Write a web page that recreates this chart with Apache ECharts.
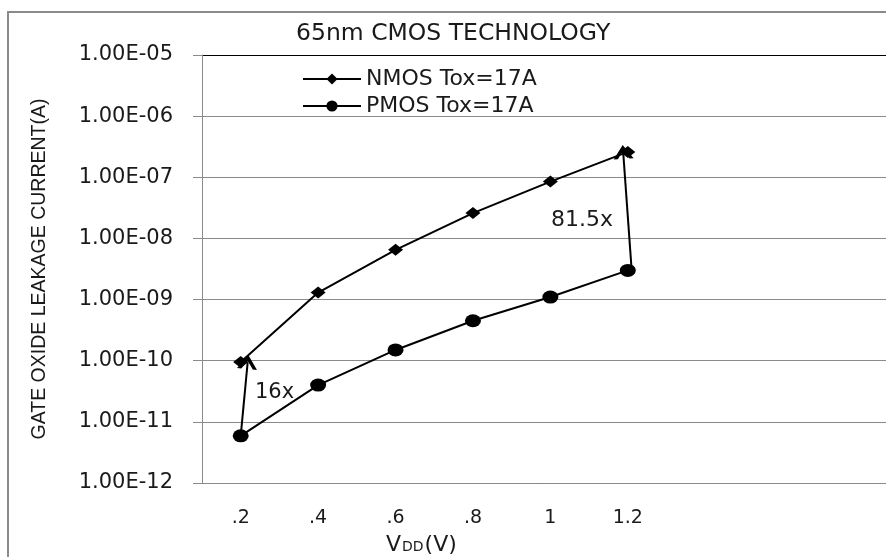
<!DOCTYPE html>
<html>
<head>
<meta charset="utf-8">
<script src="https://cdn.jsdelivr.net/npm/echarts@6/dist/echarts.min.js"></script>
<style>
html,body{margin:0;padding:0;background:#fff;}
#chart{width:886px;height:557px;}
</style>
</head>
<body>
<div id="chart"></div>
<script>
// ---- data ----
const titleText = '65nm CMOS TECHNOLOGY';
const seriesNames = ['NMOS Tox=17A', 'PMOS Tox=17A'];
const xValues = [0.2, 0.4, 0.6, 0.8, 1.0, 1.2];
const xTickLabels = ['.2', '.4', '.6', '.8', '1', '1.2'];
const nmos = [9.5e-11, 1.3e-9, 6.5e-9, 2.6e-8, 8.5e-8, 2.6e-7];
const pmos = [5.9e-12, 4.0e-11, 1.5e-10, 4.5e-10, 1.1e-9, 3.0e-9];
const yTickValues = [1e-12, 1e-11, 1e-10, 1e-9, 1e-8, 1e-7, 1e-6, 1e-5];
const yTickLabels = ['1.00E-12', '1.00E-11', '1.00E-10', '1.00E-09', '1.00E-08', '1.00E-07', '1.00E-06', '1.00E-05'];
const ratioLabels = ['16x', '81.5x'];
const yAxisName = 'GATE OXIDE LEAKAGE CURRENT(A)';

// ---- chart ----
const chart = echarts.init(document.getElementById('chart'), null, {renderer: 'canvas'});
const FONT = 'DejaVu Sans';
const TXT = '#1a1a1a';
const GRID = '#8a8a8a';

const chevron = 'path://M0,10 L5,0 L10,10 L7.9,10 L5,4.2 L2.1,10 Z';

function yLabel(v) {
  const idx = Math.round(Math.log10(v)) + 12;
  return yTickLabels[idx] !== undefined ? yTickLabels[idx] : '';
}
function xLabel(v) {
  for (let i = 0; i < xValues.length; i++) {
    if (Math.abs(xValues[i] - v) < 1e-6) return xTickLabels[i];
  }
  return '';
}
const splitColors = yTickValues.map((v, i) => i === yTickValues.length - 1 ? '#000' : GRID);

const option = {
  animation: false,
  backgroundColor: '#fff',
  title: {
    text: titleText,
    left: 296,
    top: 22,
    padding: 0,
    textStyle: {fontFamily: FONT, fontSize: 23.5, fontWeight: 'normal', color: TXT}
  },
  legend: {
    orient: 'vertical',
    left: 302,
    top: 68,
    padding: 0,
    itemWidth: 58,
    itemHeight: 14,
    itemGap: 5,
    data: seriesNames,
    textStyle: {fontFamily: FONT, fontSize: 22, color: TXT, lineHeight: 22}
  },
  grid: {left: 202, right: 0, top: 55, bottom: 74, containLabel: false},
  xAxis: {
    type: 'value',
    min: 0.1,
    max: 1.867,
    axisLine: {show: true, onZero: false, lineStyle: {color: GRID, width: 1}},
    axisTick: {show: false},
    splitLine: {show: false},
    axisLabel: {
      customValues: xValues,
      formatter: xLabel,
      margin: 26,
      fontFamily: FONT,
      fontSize: 19,
      color: TXT
    }
  },
  yAxis: {
    type: 'log',
    logBase: 10,
    min: 1e-12,
    max: 1e-5,
    name: yAxisName,
    nameLocation: 'middle',
    nameRotate: 90,
    nameGap: 152,
    nameTextStyle: {fontFamily: 'Liberation Sans', fontSize: 19.5, color: TXT},
    axisLine: {show: true, lineStyle: {color: GRID, width: 1}},
    axisTick: {show: true, inside: false, length: 9, lineStyle: {color: GRID}},
    splitLine: {show: true, lineStyle: {color: splitColors, width: 1}},
    minorTick: {show: false},
    axisLabel: {
      formatter: yLabel,
      margin: 29,
      fontFamily: FONT,
      fontSize: 21,
      color: TXT
    }
  },
  series: [
    {
      name: seriesNames[0],
      type: 'line',
      data: xValues.map((x, i) => [x, nmos[i]]),
      symbol: 'diamond',
      symbolSize: [15, 12],
      lineStyle: {color: '#000', width: 2},
      itemStyle: {color: '#000'},
      z: 3
    },
    {
      name: seriesNames[1],
      type: 'line',
      data: xValues.map((x, i) => [x, pmos[i]]),
      symbol: 'circle',
      symbolSize: [16, 13],
      lineStyle: {color: '#000', width: 2},
      itemStyle: {color: '#000'},
      z: 3,
      markLine: {
        silent: true,
        symbol: ['none', chevron],
        symbolSize: [20, 14],
        label: {show: false},
        lineStyle: {color: '#000', width: 2, type: 'solid'},
        data: [
          [{coord: [xValues[0], pmos[0]]}, {coord: [xValues[0] + 0.018, nmos[0]]}],
          [{coord: [xValues[5] + 0.01, pmos[5]]}, {coord: [xValues[5] - 0.012, nmos[5]]}]
        ]
      }
    }
  ],
  graphic: [
    {
      type: 'rect',
      silent: true,
      shape: {x: 8, y: 12, width: 1000, height: 700},
      style: {fill: 'none', stroke: '#8a8a8a', lineWidth: 2},
      z: 0
    },
    {
      type: 'text',
      left: 255, top: 382,
      style: {text: ratioLabels[0], font: '21px "DejaVu Sans"', fill: TXT}
    },
    {
      type: 'text',
      left: 551, top: 209,
      style: {text: ratioLabels[1], font: '22px "DejaVu Sans"', fill: TXT}
    },
    {
      type: 'text',
      left: 386, top: 534,
      style: {
        text: '{a|V}{b|DD}{a|(V)}',
        rich: {
          a: {fontFamily: FONT, fontSize: 22, fill: TXT, color: TXT},
          b: {fontFamily: FONT, fontSize: 14, fill: TXT, color: TXT, padding: [4, 1, 0, 1]}
        }
      }
    }
  ]
};
chart.setOption(option);
</script>
</body>
</html>
